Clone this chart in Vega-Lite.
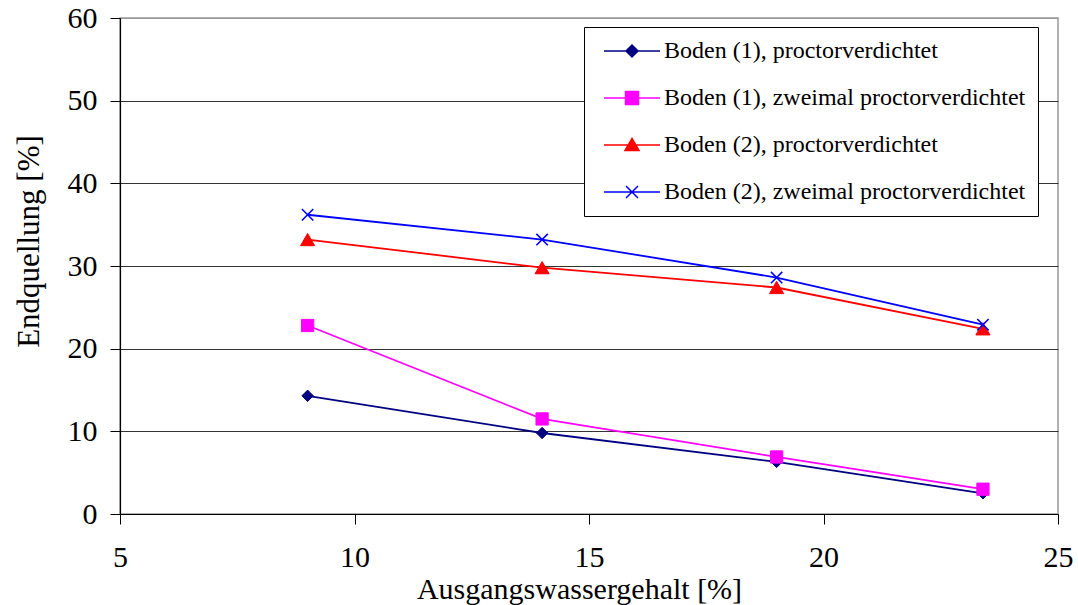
{
  "$schema": "https://vega.github.io/schema/vega-lite/v6.json",
  "width": 938,
  "height": 496,
  "autosize": {"type": "none"},
  "padding": {"left": 120, "top": 18, "right": 20, "bottom": 91},
  "background": "white",
  "config": {
    "view": {"stroke": "#999999", "strokeWidth": 1.5},
    "font": "Liberation Serif"
  },
  "data": {
    "values": [
      {"w": 9, "q": 14.3, "series": "Boden (1), proctorverdichtet"},
      {"w": 14, "q": 9.8, "series": "Boden (1), proctorverdichtet"},
      {"w": 19, "q": 6.3, "series": "Boden (1), proctorverdichtet"},
      {"w": 23.4, "q": 2.5, "series": "Boden (1), proctorverdichtet"},
      {"w": 9, "q": 22.8, "series": "Boden (1), zweimal proctorverdichtet"},
      {"w": 14, "q": 11.5, "series": "Boden (1), zweimal proctorverdichtet"},
      {"w": 19, "q": 6.9, "series": "Boden (1), zweimal proctorverdichtet"},
      {"w": 23.4, "q": 3.0, "series": "Boden (1), zweimal proctorverdichtet"},
      {"w": 9, "q": 33.2, "series": "Boden (2), proctorverdichtet"},
      {"w": 14, "q": 29.8, "series": "Boden (2), proctorverdichtet"},
      {"w": 19, "q": 27.4, "series": "Boden (2), proctorverdichtet"},
      {"w": 23.4, "q": 22.4, "series": "Boden (2), proctorverdichtet"},
      {"w": 9, "q": 36.2, "series": "Boden (2), zweimal proctorverdichtet"},
      {"w": 14, "q": 33.2, "series": "Boden (2), zweimal proctorverdichtet"},
      {"w": 19, "q": 28.6, "series": "Boden (2), zweimal proctorverdichtet"},
      {"w": 23.4, "q": 22.9, "series": "Boden (2), zweimal proctorverdichtet"}
    ]
  },
  "encoding": {
    "x": {
      "field": "w", "type": "quantitative",
      "scale": {"domain": [5, 25], "nice": false, "zero": false},
      "axis": {
        "values": [5, 10, 15, 20, 25],
        "grid": false,
        "title": "Ausgangswassergehalt [%]",
        "titleFont": "Liberation Serif", "titleFontSize": 30, "titleFontWeight": "normal", "titleColor": "black",
        "titleX": 459, "titleY": 84, "titleBaseline": "alphabetic", "titleAlign": "center",
        "labelFont": "Liberation Serif", "labelFontSize": 30, "labelColor": "black",
        "labelPadding": 18, "labelFlush": false,
        "tickSize": 10, "tickColor": "black", "domainColor": "black", "tickWidth": 1, "domainWidth": 1.2
      }
    },
    "y": {
      "field": "q", "type": "quantitative",
      "scale": {"domain": [0, 60], "nice": false},
      "axis": {
        "values": [0, 10, 20, 30, 40, 50, 60],
        "grid": true,
        "gridColor": {"condition": {"test": "datum.value >= 60", "value": "#999999"}, "value": "#333333"},
        "gridWidth": 1, "gridOpacity": 1,
        "title": "Endquellung [%]",
        "titleFont": "Liberation Serif", "titleFontSize": 31, "titleFontWeight": "normal", "titleColor": "black",
        "titleX": -91, "titleY": 223, "titleAngle": 270, "titleAlign": "center", "titleBaseline": "middle",
        "labelFont": "Liberation Serif", "labelFontSize": 30, "labelColor": "black",
        "labelPadding": 13, "labelFlush": false,
        "tickSize": 10, "tickColor": "black", "domainColor": "black", "tickWidth": 1, "domainWidth": 1.2
      }
    }
  },
  "layer": [
    {
      "mark": {"type": "line", "strokeWidth": 1.8},
      "encoding": {
        "color": {
          "field": "series", "type": "nominal",
          "scale": {
            "domain": ["Boden (1), proctorverdichtet", "Boden (1), zweimal proctorverdichtet", "Boden (2), proctorverdichtet", "Boden (2), zweimal proctorverdichtet"],
            "range": ["#000080", "#ff00ff", "#ff0000", "#0000ff"]
          },
          "legend": {
            "title": null,
            "orient": "none",
            "legendX": 464,
            "legendY": 9,
            "fillColor": "white",
            "strokeColor": "black",
            "padding": 12,
            "labelFont": "Liberation Serif",
            "labelFontSize": 24,
            "labelColor": "black",
            "labelLimit": 600,
            "labelOffset": 44,
            "symbolSize": 400,
            "symbolStrokeWidth": 1.5,
            "rowPadding": 23,
            "encode": {
              "symbols": {
                "update": {
                  "shape": {"signal": "['M-0.4,0L5.2,0M2.4,-0.6L3,0L2.4,0.6L1.8,0Z','M-0.4,0L5.2,0M1.75,-0.65L3.05,-0.65L3.05,0.65L1.75,0.65Z','M-0.4,0L5.2,0M2.4,-0.65L3.1,0.55L1.7,0.55Z','M-0.4,0L5.2,0M1.8,-0.6L3,0.6M1.8,0.6L3,-0.6'][datum.index]"},
                  "fill": {"signal": "scale('color', datum.value)"},
                  "stroke": {"signal": "scale('color', datum.value)"},
                  "opacity": {"value": 1}
                }
              }
            }
          }
        }
      }
    },
    {
      "transform": [{"filter": "datum.series === 'Boden (1), proctorverdichtet'"}],
      "mark": {"type": "point", "shape": "diamond", "filled": true, "opacity": 1, "fill": "#000080", "stroke": "#000080", "strokeWidth": 1, "size": 130}
    },
    {
      "transform": [{"filter": "datum.series === 'Boden (1), zweimal proctorverdichtet'"}],
      "mark": {"type": "point", "shape": "square", "filled": true, "opacity": 1, "fill": "#ff00ff", "stroke": "#ff00ff", "strokeWidth": 1, "size": 150}
    },
    {
      "transform": [{"filter": "datum.series === 'Boden (2), proctorverdichtet'"}],
      "mark": {"type": "point", "shape": "triangle-up", "filled": true, "opacity": 1, "fill": "#ff0000", "stroke": "#ff0000", "strokeWidth": 1, "size": 200}
    },
    {
      "transform": [{"filter": "datum.series === 'Boden (2), zweimal proctorverdichtet'"}],
      "mark": {"type": "point", "shape": "M-1,-1L1,1M-1,1L1,-1", "filled": false, "opacity": 1, "stroke": "#0000ff", "strokeWidth": 1.6, "size": 130}
    }
  ]
}
